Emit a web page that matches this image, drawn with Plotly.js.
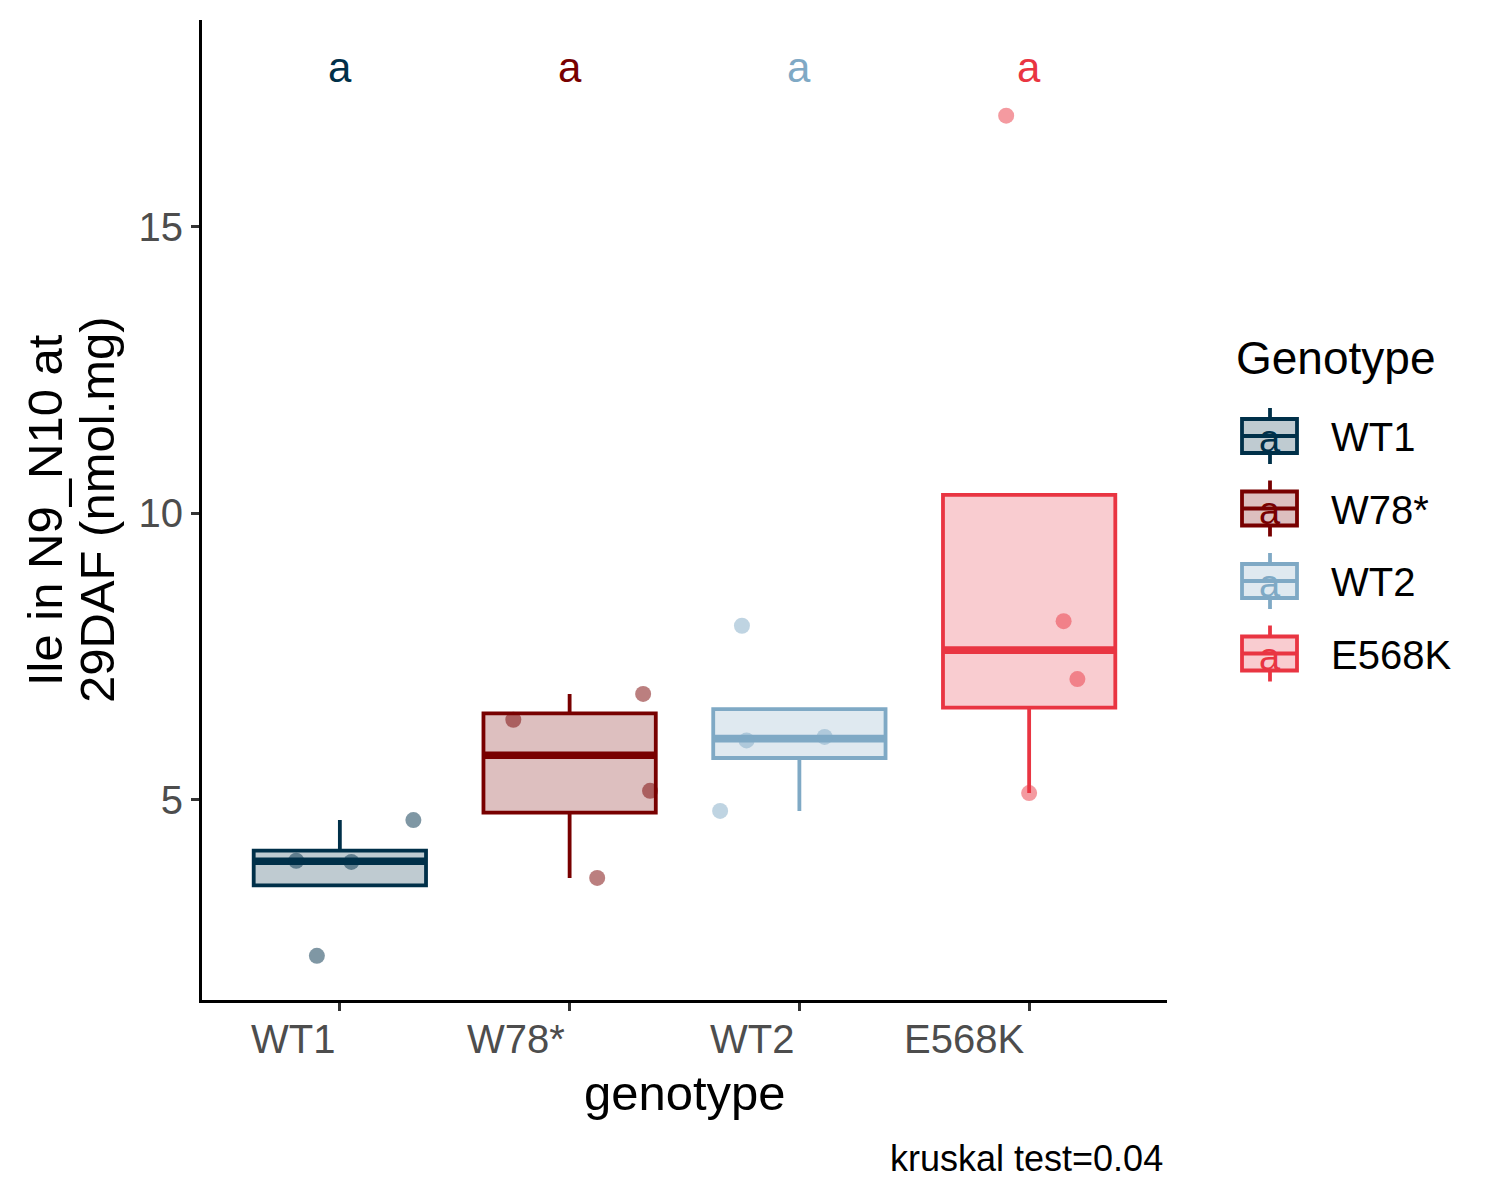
<!DOCTYPE html>
<html>
<head>
<meta charset="utf-8">
<script src="https://cdn.plot.ly/plotly-3.0.1.min.js"></script>
<style>
  body { margin: 0; background: #fff; }
  #plot { width: 1500px; height: 1200px; }
</style>
</head>
<body>
<div id="plot"></div>
<script>
// genotypes in plotting order, with their colours
var genotypes = ["WT1", "W78*", "WT2", "E568K"];
var colors = ["#003049", "#780000", "#7FA9C5", "#E93542"];
var cldLetters = ["a", "a", "a", "a"];

// Ile in N9_N10 at 29DAF (nmol.mg)
var wt1Vals = [3.94, 3.92, 4.65, 2.28];
var w78Vals = [6.40, 6.85, 5.16, 3.64];
var wt2Vals = [4.81, 8.04, 6.04, 6.10];
var e568kVals = [5.12, 8.12, 7.11, 16.94];

// horizontal jitter of the dots (category units)
var wt1Jitter = [-0.19, 0.05, 0.32, -0.10];
var w78Jitter = [-0.245, 0.32, 0.35, 0.12];
var wt2Jitter = [-0.345, -0.25, -0.23, 0.11];
var e568kJitter = [0.0, 0.15, 0.21, -0.10];

var cldY = 17.78;
var kruskalP = "0.04";

var allVals = [wt1Vals, w78Vals, wt2Vals, e568kVals];
var allJitter = [wt1Jitter, w78Jitter, wt2Jitter, e568kJitter];

var FONT = "Liberation Sans, Arial, sans-serif";

function rgba(hex, a) {
  var r = parseInt(hex.slice(1, 3), 16), g = parseInt(hex.slice(3, 5), 16), b = parseInt(hex.slice(5, 7), 16);
  return "rgba(" + r + "," + g + "," + b + "," + a + ")";
}

// R type 7 quantile, like ggplot's stat_boxplot
function quant(s, p) {
  var h = (s.length - 1) * p, lo = Math.floor(h);
  var hi = Math.min(lo + 1, s.length - 1);
  return s[lo] + (h - lo) * (s[hi] - s[lo]);
}

function boxStats(vals) {
  var s = vals.slice().sort(function(a, b) { return a - b; });
  var q1 = quant(s, 0.25), med = quant(s, 0.5), q3 = quant(s, 0.75);
  var iqr = q3 - q1;
  var inside = s.filter(function(v) { return v >= q1 - 1.5 * iqr && v <= q3 + 1.5 * iqr; });
  return {
    q1: q1, med: med, q3: q3,
    lo: Math.min(q1, inside[0]),
    hi: Math.max(q3, inside[inside.length - 1])
  };
}

var traces = [];
var boxW = 0.75;
var LW = 3.8;

genotypes.forEach(function(g, i) {
  var st = boxStats(allVals[i]);
  traces.push({
    type: "box",
    x: [i],
    q1: [st.q1], median: [st.med], q3: [st.q3],
    lowerfence: [st.lo], upperfence: [st.hi],
    width: boxW,
    whiskerwidth: 0,
    boxpoints: false,
    line: { color: colors[i], width: LW },
    fillcolor: rgba(colors[i], 0.25),
    hoverinfo: "skip",
    showlegend: false
  });
  // thicker median bar (ggplot fatten = 2)
  traces.push({
    type: "scatter", mode: "lines",
    x: [i - boxW / 2, i + boxW / 2],
    y: [st.med, st.med],
    line: { color: colors[i], width: 2 * LW },
    hoverinfo: "skip", showlegend: false
  });
});

genotypes.forEach(function(g, i) {
  traces.push({
    type: "scatter", mode: "markers",
    x: allJitter[i].map(function(j) { return i + j; }),
    y: allVals[i],
    marker: { size: 16, color: rgba(colors[i], 0.5), line: { width: 0 } },
    name: g, showlegend: false
  });
});

// panel is 202..1167 px wide, 20..1000 px tall
var L = 202, R = 1167, T = 20, B = 1000;
function px2x(px) { return (px - L) / (R - L); }
function py2y(py) { return (B - py) / (B - T); }

var annotations = [];
var shapes = [];

// x tick labels, right-justified on the tick
genotypes.forEach(function(g, i) {
  annotations.push({
    x: i, xref: "x", y: py2y(1039), yref: "paper",
    text: g, showarrow: false, xanchor: "right", yanchor: "middle", xshift: -3,
    font: { family: FONT, size: 40, color: "#4d4d4d" }
  });
  // compact letter display on top
  annotations.push({
    x: i, xref: "x", y: cldY, yref: "y",
    text: cldLetters[i], showarrow: false, xanchor: "center", yanchor: "middle",
    font: { family: FONT, size: 42, color: colors[i] }
  });
});

annotations.push({
  x: 0.5, xref: "paper", y: py2y(1093), yref: "paper",
  text: "genotype", showarrow: false, xanchor: "center", yanchor: "middle",
  font: { family: FONT, size: 49, color: "black" }
});
annotations.push({
  x: px2x(45), xref: "paper", y: 0.5, yref: "paper",
  text: "Ile in N9_N10 at", textangle: -90, showarrow: false,
  xanchor: "center", yanchor: "middle",
  font: { family: FONT, size: 49, color: "black" }
});
annotations.push({
  x: px2x(97), xref: "paper", y: 0.5, yref: "paper",
  text: "29DAF (nmol.mg)", textangle: -90, showarrow: false,
  xanchor: "center", yanchor: "middle",
  font: { family: FONT, size: 49, color: "black" }
});
annotations.push({
  x: px2x(1165), xref: "paper", y: py2y(1158), yref: "paper",
  text: "kruskal test=" + kruskalP, showarrow: false, xanchor: "right", yanchor: "middle",
  font: { family: FONT, size: 36, color: "black" }
});

// legend, drawn by hand to get ggplot's boxplot keys
annotations.push({
  x: px2x(1234), xref: "paper", y: py2y(358), yref: "paper",
  text: "Genotype", showarrow: false, xanchor: "left", yanchor: "middle",
  font: { family: FONT, size: 46, color: "black" }
});
genotypes.forEach(function(g, i) {
  var cy = 436 + 72.5 * i;
  var ln = { color: colors[i], width: LW };
  shapes.push({ type: "rect", xref: "paper", yref: "paper",
    x0: px2x(1242), x1: px2x(1297), y0: py2y(cy + 17), y1: py2y(cy - 17),
    line: ln, fillcolor: rgba(colors[i], 0.25) });
  shapes.push({ type: "line", xref: "paper", yref: "paper",
    x0: px2x(1242), x1: px2x(1297), y0: py2y(cy), y1: py2y(cy), line: ln });
  shapes.push({ type: "line", xref: "paper", yref: "paper",
    x0: px2x(1270), x1: px2x(1270), y0: py2y(cy - 28), y1: py2y(cy - 17), line: ln });
  shapes.push({ type: "line", xref: "paper", yref: "paper",
    x0: px2x(1270), x1: px2x(1270), y0: py2y(cy + 17), y1: py2y(cy + 28), line: ln });
  annotations.push({
    x: px2x(1270), xref: "paper", y: py2y(cy + 3), yref: "paper",
    text: cldLetters[i], showarrow: false, xanchor: "center", yanchor: "middle",
    font: { family: FONT, size: 38, color: colors[i] }
  });
  annotations.push({
    x: px2x(1329), xref: "paper", y: py2y(cy + 1), yref: "paper",
    text: g, showarrow: false, xanchor: "left", yanchor: "middle",
    font: { family: FONT, size: 40, color: "black" }
  });
});

var layout = {
  width: 1500, height: 1200,
  margin: { l: L, r: 1500 - R, t: T, b: 1200 - B, pad: 0 },
  paper_bgcolor: "white", plot_bgcolor: "white",
  font: { family: FONT },
  showlegend: false,
  xaxis: {
    range: [-0.6, 3.6], tickvals: [0, 1, 2, 3], showticklabels: false,
    showgrid: false, zeroline: false, showline: true, linecolor: "black", linewidth: 3,
    ticks: "outside", ticklen: 8, tickwidth: 3, tickcolor: "#333333", fixedrange: true
  },
  yaxis: {
    range: [1.51, 18.61], tickvals: [5, 10, 15],
    showgrid: false, zeroline: false, showline: true, linecolor: "black", linewidth: 3,
    ticks: "outside", ticklen: 8, tickwidth: 3, tickcolor: "#333333",
    tickfont: { family: FONT, size: 40, color: "#4d4d4d" }, fixedrange: true
  },
  annotations: annotations,
  shapes: shapes
};

Plotly.newPlot("plot", traces, layout, { displayModeBar: false, staticPlot: true });
</script>
</body>
</html>
